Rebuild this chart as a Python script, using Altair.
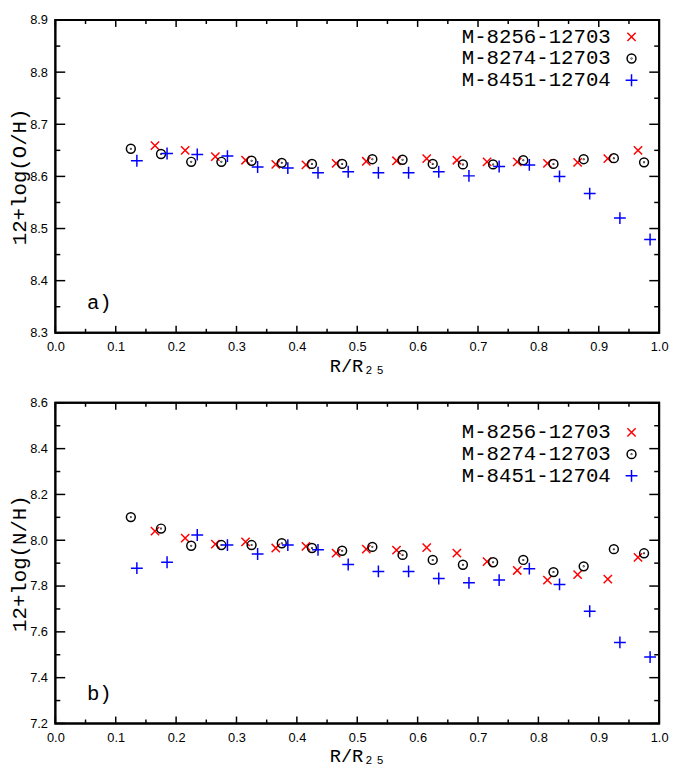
import altair as alt
import pandas as pd

# ---------------- data ----------------
series_names = ["M-8256-12703", "M-8274-12703", "M-8451-12704"]
series_colors = ["#ff0000", "#000000", "#0000ff"]

r_8256 = [0.165, 0.215, 0.265, 0.315, 0.365, 0.415, 0.465, 0.515, 0.565,
          0.615, 0.665, 0.715, 0.765, 0.815, 0.865, 0.915, 0.965]
r_8274 = [0.125, 0.175, 0.225, 0.275, 0.325, 0.375, 0.425, 0.475, 0.525,
          0.575, 0.625, 0.675, 0.725, 0.775, 0.825, 0.875, 0.925, 0.975]
r_8451 = [0.135, 0.185, 0.235, 0.285, 0.335, 0.385, 0.435, 0.485, 0.535,
          0.585, 0.635, 0.685, 0.735, 0.785, 0.835, 0.885, 0.935, 0.985]

oh_8256 = [8.659, 8.650, 8.638, 8.631, 8.623, 8.622, 8.625, 8.629, 8.630,
           8.634, 8.631, 8.628, 8.628, 8.625, 8.627, 8.634, 8.650]
oh_8274 = [8.653, 8.643, 8.628, 8.628, 8.630, 8.626, 8.624, 8.624, 8.633,
           8.632, 8.624, 8.623, 8.623, 8.631, 8.624, 8.633, 8.635, 8.627]
oh_8451 = [8.630, 8.644, 8.642, 8.639, 8.618, 8.616, 8.607, 8.609, 8.607,
           8.607, 8.609, 8.601, 8.619, 8.622, 8.600, 8.567, 8.520, 8.479]

nh_8256 = [8.040, 8.009, 7.983, 7.993, 7.966, 7.973, 7.944, 7.961, 7.957,
           7.968, 7.944, 7.907, 7.868, 7.826, 7.850, 7.830, 7.925]
nh_8274 = [8.101, 8.051, 7.976, 7.979, 7.979, 7.987, 7.966, 7.954, 7.971,
           7.936, 7.914, 7.893, 7.904, 7.914, 7.861, 7.886, 7.961, 7.943]
nh_8451 = [7.878, 7.904, 8.023, 7.979, 7.940, 7.979, 7.958, 7.894, 7.864,
           7.864, 7.833, 7.814, 7.826, 7.876, 7.807, 7.690, 7.554, 7.490]

x_major = [0.0, 0.1, 0.2, 0.3, 0.4, 0.5, 0.6, 0.7, 0.8, 0.9, 1.0]
x_minor = [0.05, 0.15, 0.25, 0.35, 0.45, 0.55, 0.65, 0.75, 0.85, 0.95]
oh_major = [8.3, 8.4, 8.5, 8.6, 8.7, 8.8, 8.9]
oh_minor = [8.35, 8.45, 8.55, 8.65, 8.75, 8.85]
nh_major = [7.2, 7.4, 7.6, 7.8, 8.0, 8.2, 8.4, 8.6]
nh_minor = [7.3, 7.5, 7.7, 7.9, 8.1, 8.3, 8.5]
panel_labels = ["a)", "b)"]


def make_df(rs, vals):
    rows = []
    for name, r, v in zip(series_names, rs, vals):
        for a, b in zip(r, v):
            rows.append({"R": a, "val": b, "series": name})
    return pd.DataFrame(rows)


top_df = make_df([r_8256, r_8274, r_8451], [oh_8256, oh_8274, oh_8451])
bot_df = make_df([r_8256, r_8274, r_8451], [nh_8256, nh_8274, nh_8451])
leg_df = pd.DataFrame({"series": series_names})

# ---------------- style ----------------
X_PATH = "M-0.7,-0.7L0.7,0.7M0.7,-0.7L-0.7,0.7"
O_PATH = ("M0.75,0 A0.75,0.75 0 1 1 -0.75,0 A0.75,0.75 0 1 1 0.75,0 "
          "M0.05,0 A0.05,0.05 0 1 1 -0.05,0 A0.05,0.05 0 1 1 0.05,0")
P_PATH = "M-1,0L1,0M0,-1L0,1"

MONO = "Liberation Mono, DejaVu Sans Mono"
SANS = "Liberation Sans"
W = 612

color_scale = alt.Scale(domain=series_names, range=series_colors)
shape_scale = alt.Scale(domain=series_names, range=[X_PATH, O_PATH, P_PATH])


def panel(df, ydomain, ymajor, yminor, ytitle, label, H, leg_top):
    xs = alt.Scale(domain=[0, 1], nice=False)
    ys = alt.Scale(domain=ydomain, nice=False, zero=False)

    def yticks(values, x0, x1):
        return alt.Chart(pd.DataFrame({"v": values})).mark_rule(
            color="black", strokeWidth=1.5
        ).encode(y=alt.Y("v:Q", scale=ys, axis=None),
                 x=alt.value(x0), x2=alt.value(x1))

    def xticks(values, y0, y1):
        return alt.Chart(pd.DataFrame({"v": values})).mark_rule(
            color="black", strokeWidth=1.5
        ).encode(x=alt.X("v:Q", scale=xs, axis=None),
                 y=alt.value(y0), y2=alt.value(y1))

    ticks = [
        yticks(ymajor, 0, 10), yticks(yminor, 0, 5),
        yticks(ymajor, W - 10, W), yticks(yminor, W - 5, W),
        xticks(x_major, H, H - 7), xticks(x_minor, H, H - 4),
        xticks(x_major, 0, 7), xticks(x_minor, 0, 4),
    ]

    frame = alt.Chart(pd.DataFrame({"f": [0]})).mark_rect(
        filled=False, stroke="black", strokeWidth=2
    ).encode(x=alt.value(0), x2=alt.value(W), y=alt.value(0), y2=alt.value(H))

    pts = alt.Chart(df).mark_point(filled=False, size=144, strokeWidth=1.5,
                                   opacity=1).encode(
        x=alt.X("R:Q", scale=xs,
                axis=alt.Axis(orient="bottom", values=x_major, ticks=False,
                              domain=False, grid=False, format=".1f",
                              labelFlush=False, labelOverlap=False, labelPadding=8,
                              labelFont=SANS, labelFontSize=13, labelColor="black",
                              title="R/R₂₅", titleFont=MONO, titleFontSize=19,
                              titleFontWeight="normal", titleColor="black",
                              titleX=W / 2, titleY=33, titleBaseline="middle",
                              titleAlign="center")),
        y=alt.Y("val:Q", scale=ys,
                axis=alt.Axis(orient="left", values=ymajor, ticks=False,
                              domain=False, grid=False, format=".1f", labelPadding=8,
                              labelFont=SANS, labelFontSize=13, labelColor="black",
                              labelOverlap=False,
                              title=ytitle, titleFont=MONO, titleFontSize=21,
                              titleFontWeight="normal", titleColor="black",
                              titleX=-36, titleY=H / 2, titleBaseline="middle",
                              titleAlign="center", titleAngle=270)),
        color=alt.Color("series:N", scale=color_scale, legend=None),
        shape=alt.Shape("series:N", scale=shape_scale, legend=None),
    )

    txt = alt.Chart(pd.DataFrame({"t": [label]})).mark_text(
        font=MONO, fontSize=21, align="left", baseline="middle", color="black"
    ).encode(x=alt.value(32), y=alt.value(H - 30), text="t:N")

    # legend drawn inside the plot: label text, then symbol to its right
    leg_y = alt.Y("series:N", scale=alt.Scale(domain=series_names,
                                              range=[leg_top, leg_top + 44],
                                              padding=0),
                  axis=None)
    leg_txt = alt.Chart(leg_df).mark_text(
        font=MONO, fontSize=21, align="right", baseline="middle", color="black"
    ).encode(x=alt.value(563), y=leg_y, text="series:N")
    leg_sym = alt.Chart(leg_df).mark_point(
        filled=False, size=144, strokeWidth=1.5, opacity=1
    ).encode(
        x=alt.value(584), y=leg_y,
        color=alt.Color("series:N", scale=color_scale, legend=None),
        shape=alt.Shape("series:N", scale=shape_scale, legend=None),
    )

    return alt.layer(pts, *ticks, frame, txt, leg_txt, leg_sym).resolve_scale(
        y="independent"
    ).resolve_axis(x="independent", y="independent").properties(width=W, height=H)


top = panel(top_df, [8.3, 8.9], oh_major, oh_minor, "12+log(O/H)",
            panel_labels[0], 317, 17)
bottom = panel(bot_df, [7.2, 8.6], nh_major, nh_minor, "12+log(N/H)",
               panel_labels[1], 325, 30)

chart = alt.vconcat(top, bottom, spacing=20).resolve_scale(
    x="independent", y="independent", color="independent", shape="independent"
).properties(
    padding={"left": 0, "top": 0, "right": 0, "bottom": 0}
).configure_view(
    stroke="black", strokeWidth=2
).configure_axis(
    grid=False
)

chart.save("out.html", embed_options={"renderer": "svg", "actions": False})
